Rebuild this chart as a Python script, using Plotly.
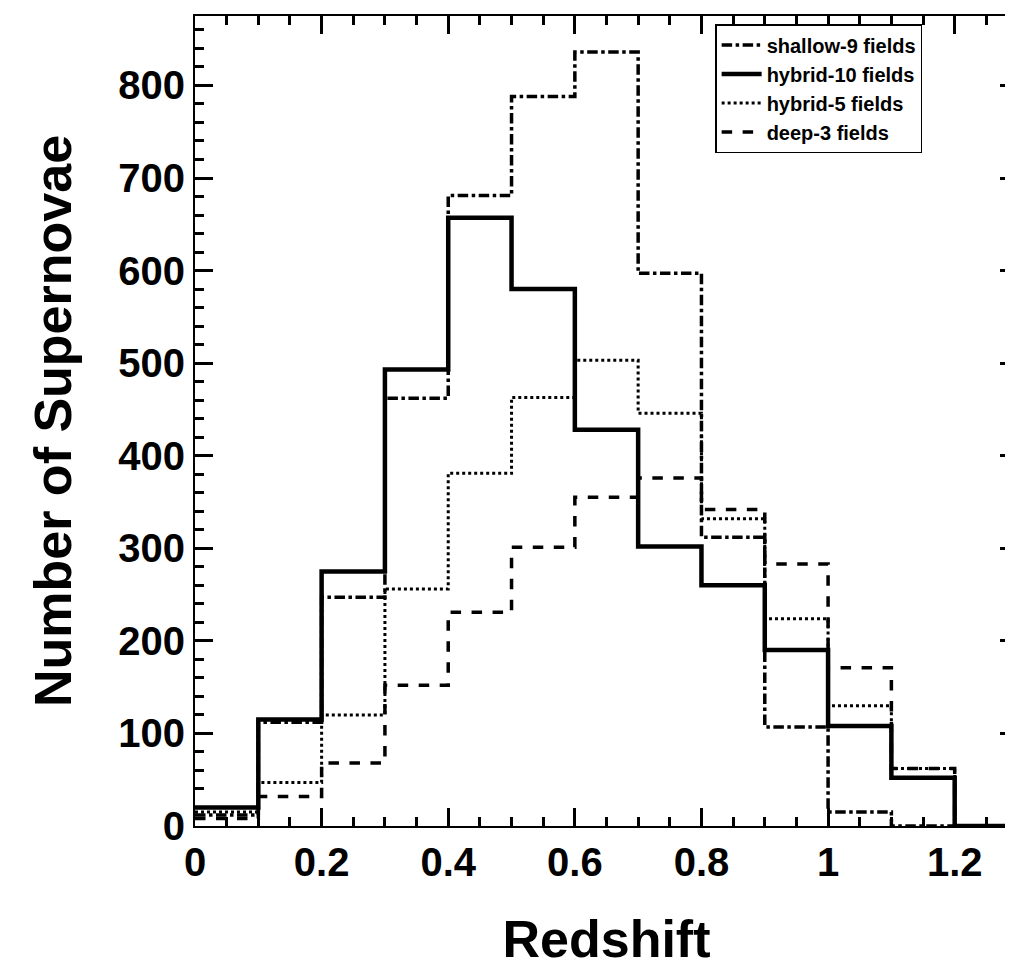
import plotly.graph_objects as go

edges = [round(0.1*i, 1) for i in range(14)]
shallow = [12, 112, 247, 462, 681, 788, 836, 597, 312, 107, 15, 0, 0]
hybrid10 = [20, 115, 275, 493, 657, 580, 428, 302, 260, 190, 108, 52, 0]
hybrid5 = [15, 47, 120, 256, 381, 463, 503, 446, 332, 224, 130, 62, 0]
deep3 = [8, 32, 68, 152, 231, 301, 355, 376, 342, 283, 171, 62, 0]

series = [("shallow-9 fields", shallow, "dashdot", 3.5),
          ("hybrid-10 fields", hybrid10, "solid", 4.5),
          ("hybrid-5 fields", hybrid5, "dot", 3),
          ("deep-3 fields", deep3, "dash", 3.5)]

fig = go.Figure()
for name, vals, dash, w in series:
    fig.add_trace(go.Scatter(x=edges, y=vals + [vals[-1]], mode="lines", name=name,
                             line=dict(shape="hv", color="black", dash=dash, width=w)))

font = dict(family="Liberation Sans", color="black", weight="bold")
ax = dict(showline=True, linecolor="black", linewidth=2, mirror="allticks", ticks="inside",
          ticklen=18, tickwidth=2.5, tickcolor="black", showgrid=False, zeroline=False,
          automargin=False, tickfont=dict(font, size=40))
fig.update_layout(
    width=1013, height=974, plot_bgcolor="white", paper_bgcolor="white",
    margin=dict(l=187, r=3, t=8, b=156), showlegend=True,
    legend=dict(x=0.632, y=0.99, xanchor="left", yanchor="top", bordercolor="black", borderwidth=1.5,
                font=dict(font, size=20), tracegroupgap=0, itemwidth=40),
    xaxis=dict(ax, range=[0, 1.3], dtick=0.2,
               minor=dict(ticks="inside", ticklen=9, tickwidth=2.5, tickcolor="black", dtick=0.05, showgrid=False),
               title=dict(text="Redshift", standoff=38, font=dict(font, size=52))),
    yaxis=dict(ax, range=[0, 875], dtick=100,
               minor=dict(ticks="inside", ticklen=9, tickwidth=2.5, tickcolor="black", dtick=20, showgrid=False),
               title=dict(text="Number of Supernovae", standoff=30, font=dict(font, size=52))),
)
fig.write_html("out.html")
